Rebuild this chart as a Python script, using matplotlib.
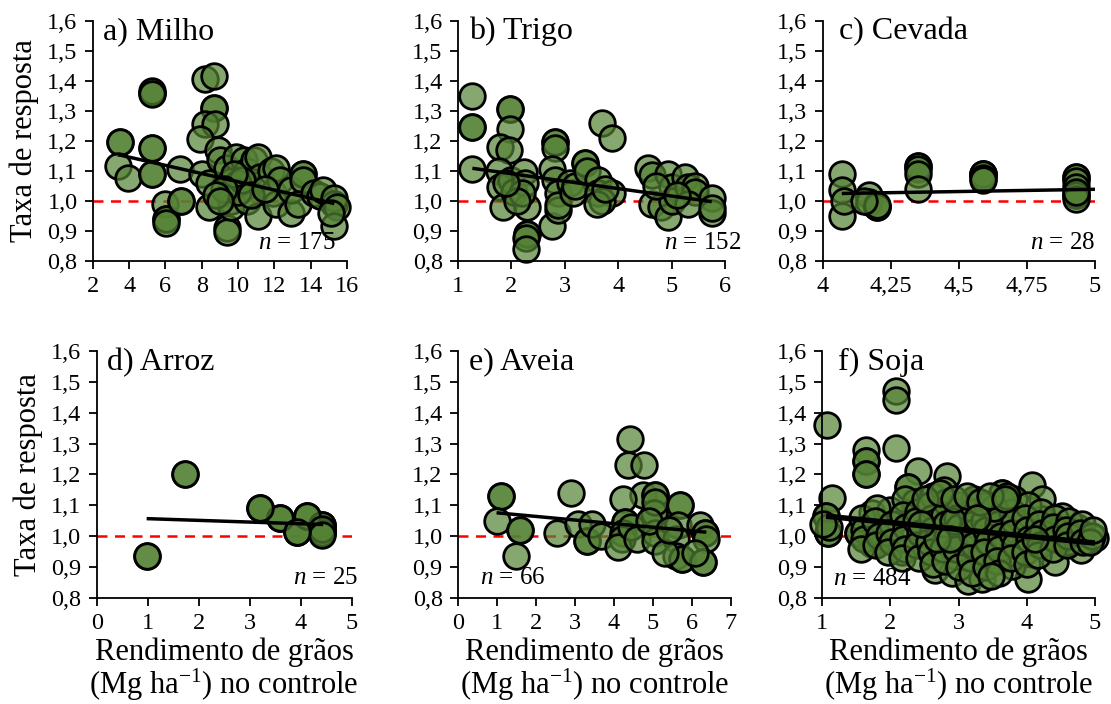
import matplotlib
matplotlib.use("Agg")
import matplotlib.pyplot as plt
from matplotlib.ticker import FuncFormatter
import numpy as np

plt.rcParams['font.family'] = ['Liberation Serif', 'DejaVu Serif']
plt.rcParams['mathtext.fontset'] = 'custom'
plt.rcParams['mathtext.rm'] = 'Liberation Serif'
plt.rcParams['mathtext.it'] = 'Liberation Serif:italic'

# a) Milho
milho_x = [3.5, 3.5, 3.4, 3.95, 5.25, 5.25, 5.25, 5.25, 5.25, 5.25, 5.25,
           6.0, 6.05, 6.05, 6.05, 6.85, 6.85, 6.8, 8.2, 8.65, 8.65, 8.65,
           8.2, 8.75, 7.9, 8.0, 8.4, 8.4, 8.9, 9.0, 9.4, 9.4, 9.4, 9.6,
           9.6, 9.6, 9.6, 9.9, 10.3, 10.5, 10.5, 10.5, 10.9, 11.1, 11.2,
           11.1, 11.8, 11.9, 12.1, 12.3, 12.1, 12.9, 12.9, 13.6, 13.6,
           13.6, 13.3, 14.2, 14.5, 14.7, 15.3, 15.3, 15.3, 15.45, 15.3,
           15.1, 10.0, 10.0, 10.2, 9.8, 10.7, 11.5, 9.2, 8.8, 9.0]
milho_y = [1.195, 1.195, 1.115, 1.075, 1.36, 1.365, 1.355, 1.175, 1.175,
           1.09, 1.09, 0.99, 0.94, 0.94, 0.925, 1.0, 1.0, 1.105, 1.405,
           1.415, 1.31, 1.31, 1.255, 1.255, 1.205, 1.09, 1.06, 0.98, 1.17,
           1.135, 0.91, 0.895, 1.11, 1.065, 1.025, 1.0, 0.98, 1.145, 1.135,
           1.10, 1.05, 1.0, 1.135, 1.145, 1.08, 0.95, 1.10, 1.025, 1.11,
           1.07, 0.99, 0.96, 1.035, 1.09, 1.09, 1.07, 0.99, 1.025, 1.015,
           1.035, 0.99, 0.99, 1.01, 0.98, 0.915, 0.96, 1.06, 1.03, 1.07,
           1.09, 1.02, 1.04, 1.04, 1.02, 1.0]

# b) Trigo
trigo_x = [1.27, 1.27, 1.27, 1.27, 1.98, 1.98, 1.98, 1.79, 1.95, 1.76,
           1.79, 1.85, 2.0, 2.04, 2.23, 2.26, 2.29, 2.29, 2.29, 2.28, 2.28,
           2.2, 2.1, 1.9, 2.82, 2.82, 2.82, 2.76, 2.82, 2.76, 2.88, 2.88,
           2.88, 3.1, 3.16, 3.2, 3.38, 3.38, 3.41, 3.63, 3.63, 3.69, 3.88,
           3.88, 3.69, 3.6, 3.75, 4.56, 4.63, 4.63, 4.81, 4.94, 4.94, 5.0,
           5.0, 5.25, 5.31, 5.44, 5.44, 5.31, 5.75, 5.75, 5.75, 4.7, 5.1]
trigo_y = [1.35, 1.245, 1.245, 1.105, 1.305, 1.305, 1.24, 1.18, 1.17, 1.10,
           1.045, 0.98, 1.07, 1.03, 1.095, 1.06, 0.98, 0.89, 0.89, 0.875,
           0.84, 1.025, 1.0, 1.06, 1.195, 1.195, 1.175, 1.105, 1.07, 0.915,
           1.025, 0.97, 0.985, 1.06, 1.025, 1.05, 1.125, 1.125, 1.10, 1.07,
           1.025, 1.26, 1.21, 1.025, 1.0, 0.99, 1.04, 1.11, 1.085, 0.99,
           0.98, 0.945, 1.09, 1.045, 1.0, 1.08, 1.045, 1.05, 1.03, 0.99,
           1.01, 0.96, 0.975, 1.05, 1.02]

# c) Cevada
cevada_x = [4.07, 4.07, 4.07, 4.08, 4.17, 4.17, 4.2, 4.2, 4.2, 4.15,
            4.35, 4.35, 4.35, 4.35, 4.35, 4.59, 4.59, 4.59, 4.59, 4.59,
            4.93, 4.93, 4.93, 4.93, 4.93, 4.93, 4.93, 4.93]
cevada_y = [1.09, 1.035, 0.95, 1.0, 1.02, 0.995, 0.98, 0.98, 0.985, 1.0,
            1.115, 1.115, 1.105, 1.09, 1.04, 1.09, 1.09, 1.09, 1.075, 1.07,
            1.08, 1.08, 1.065, 1.045, 1.02, 1.02, 1.005, 1.03]

# d) Arroz
arroz_x = [0.98, 0.98, 1.73, 1.73, 3.2, 3.2, 3.59, 3.59, 3.92, 3.92,
           4.12, 4.12, 4.41, 4.41, 4.41, 4.41, 4.41, 4.41, 4.41, 3.59,
           4.12, 3.2, 4.41, 4.41, 3.92]
arroz_y = [0.935, 0.935, 1.2, 1.2, 1.09, 1.09, 1.06, 1.06, 1.015, 1.015,
           1.065, 1.065, 1.035, 1.035, 1.035, 1.02, 1.02, 1.01, 1.01, 1.06,
           1.065, 1.09, 1.025, 1.005, 1.015]

# e) Aveia
aveia_x = [1.1, 1.1, 0.99, 1.59, 1.59, 1.5, 2.9, 2.53, 3.09, 3.3, 3.3,
           3.43, 3.68, 4.41, 4.37, 4.78, 4.75, 5.05, 5.05, 4.24, 5.03, 5.03,
           5.05, 4.28, 4.28, 4.24, 4.2, 4.11, 4.45, 4.58, 5.05, 5.05, 5.69,
           5.69, 5.65, 5.6, 5.6, 5.74, 5.74, 6.2, 6.33, 6.33, 6.37, 6.29,
           6.29, 6.08, 5.31, 4.9, 5.4]
aveia_y = [1.13, 1.13, 1.05, 1.02, 1.02, 0.935, 1.14, 1.01, 1.04, 0.985,
           0.985, 1.04, 1.0, 1.315, 1.23, 1.23, 1.135, 1.135, 1.135, 1.12,
           1.075, 1.075, 1.11, 1.045, 1.045, 1.01, 0.99, 0.965, 1.03, 0.99,
           1.01, 0.985, 1.10, 1.10, 1.035, 0.99, 0.935, 0.925, 0.925, 1.035,
           1.01, 1.01, 0.99, 0.915, 0.915, 0.945, 0.945, 1.05, 1.02]

# f) Soja
soja_x = [1.07, 1.14, 1.06, 1.06, 1.09, 1.09, 1.1, 1.02,
          2.09, 2.09, 2.09, 1.65, 1.65, 1.65, 1.65, 1.65, 2.41, 2.83, 2.26,
          2.26, 4.07, 3.63, 3.63, 3.63, 1.73, 1.53, 1.53, 1.73, 1.73, 2.17,
          2.66, 2.9, 3.14, 3.34, 4.02, 3.78, 4.41, 4.8, 5.0, 4.74, 4.51,
          4.22, 2.36, 2.0, 2.85, 3.24, 3.39, 2.75, 2.51, 3.05, 3.63, 3.93,
          4.22, 4.3, 4.6, 3.83, 3.39, 2.95,
          1.58, 1.62, 1.61, 1.57, 1.81, 1.78, 1.83, 1.79, 2.02, 1.98, 2.03,
          1.97, 2.21, 2.18, 2.23, 2.19, 2.22, 2.17, 2.41, 2.38, 2.43, 2.39,
          2.42, 2.62, 2.58, 2.61, 2.63, 2.57, 2.6, 2.62, 2.79, 2.82, 2.78,
          2.81, 2.83, 2.77, 2.8, 3.02, 2.98, 3.01, 3.03, 2.97, 3.0, 3.22,
          3.18, 3.21, 3.19, 3.23, 3.17, 3.2, 3.42, 3.38, 3.41, 3.43, 3.37,
          3.4, 3.61, 3.58, 3.62, 3.59, 3.57, 3.6, 3.82, 3.78, 3.81, 3.79,
          3.83, 3.77, 4.02, 3.98, 4.01, 4.03, 3.97, 4.0, 4.21, 4.18, 4.22,
          4.19, 4.17, 4.42, 4.38, 4.41, 4.39, 4.62, 4.58, 4.61, 4.59, 4.81,
          4.78, 4.82, 4.96, 4.93, 4.97, 3.52, 3.48, 2.92, 2.68, 3.71, 4.12,
          2.51, 2.73, 2.94, 3.12, 3.31, 3.46, 3.68, 2.45, 2.88, 3.27]
soja_y = [1.36, 1.125, 1.065, 1.065, 1.01, 1.01, 1.03, 1.04,
          1.47, 1.44, 1.285, 1.28, 1.245, 1.245, 1.2, 1.2, 1.21, 1.195, 1.16,
          1.16, 1.165, 1.14, 1.14, 1.11, 1.075, 1.01, 1.01, 0.975, 0.975,
          0.95, 0.89, 0.88, 0.855, 0.86, 0.86, 0.905, 0.915, 0.955, 0.995,
          1.03, 1.065, 1.12, 1.11, 1.085, 1.085, 1.11, 1.065, 1.02, 0.98,
          1.0, 0.98, 1.03, 1.055, 1.0, 0.98, 0.945, 0.935, 0.935,
          1.06, 1.02, 0.99, 0.96, 1.09, 1.05, 1.0, 0.97, 1.04, 1.01, 0.98,
          0.95, 1.12, 1.07, 1.03, 0.99, 0.96, 0.93, 1.08, 1.05, 1.01, 0.97,
          0.93, 1.13, 1.1, 1.06, 1.02, 0.98, 0.95, 0.91, 1.15, 1.11, 1.07,
          1.04, 1.0, 0.96, 0.92, 1.1, 1.06, 1.03, 0.99, 0.96, 0.9, 1.12,
          1.08, 1.04, 1.01, 0.97, 0.93, 0.88, 1.1, 1.05, 1.02, 0.98, 0.95,
          0.9, 1.07, 1.04, 1.0, 0.96, 0.92, 0.88, 1.12, 1.08, 1.05, 1.01,
          0.97, 0.93, 1.1, 1.06, 1.02, 0.99, 0.95, 0.91, 1.08, 1.04, 1.01,
          0.97, 0.94, 1.06, 1.03, 0.99, 0.96, 1.05, 1.02, 1.0, 0.97, 1.04,
          1.01, 0.98, 1.0, 0.98, 1.02, 1.09, 0.87, 1.05, 0.99, 1.13, 0.99,
          1.12, 1.14, 1.12, 1.13, 1.11, 1.13, 1.12, 1.04, 0.99, 1.06]

# trend lines: intercept, slope, x span
trend_a = (1.200, -0.0137, 3.4, 15.3)
trend_b = (1.1395, -0.0248, 1.27, 5.75)
trend_c = (0.963, 0.015, 4.07, 5.0)
trend_d = (1.0624, -0.0055, 0.98, 4.44)
trend_e = (1.0876, -0.0117, 0.99, 6.37)
trend_f = (1.0884, -0.0221, 1.06, 5.0)

titles = ['a) Milho', 'b) Trigo', 'c) Cevada', 'd) Arroz', 'e) Aveia', 'f) Soja']
n_obs = [175, 152, 28, 25, 66, 484]

fill = (0.329, 0.510, 0.208, 0.7)

fig = plt.figure(figsize=(11.11, 7.04), dpi=100)

# axes boxes in figure fraction
boxes = [(0.0835, 0.6297, 0.2289, 0.3409),
         (0.4122, 0.6297, 0.2404, 0.3409),
         (0.7405, 0.6297, 0.2451, 0.3409),
         (0.0870, 0.1506, 0.2296, 0.3508),
         (0.4122, 0.1506, 0.2457, 0.3508),
         (0.7399, 0.1506, 0.2457, 0.3508)]
panels = [(milho_x, milho_y, trend_a, (2, 16), np.arange(2, 17, 2), 2.5),
          (trigo_x, trigo_y, trend_b, (1, 6), np.arange(1, 7, 1), 2.5),
          (cevada_x, cevada_y, trend_c, (4, 5), np.arange(4, 5.01, 0.25), 2.5),
          (arroz_x, arroz_y, trend_d, (0, 5), np.arange(0, 6, 1), 2.5),
          (aveia_x, aveia_y, trend_e, (0, 7), np.arange(0, 8, 1), 2.5),
          (soja_x, soja_y, trend_f, (1, 5), np.arange(1, 6, 1), 4.0)]
# n label placement: x, y, ha
n_pos = [(0.955, 0.075, 'right'), (1.06, 0.075, 'right'), (1.0, 0.075, 'right'),
         (1.025, 0.08, 'right'), (0.08, 0.08, 'left'), (0.04, 0.075, 'left')]

xfmt = FuncFormatter(lambda v, p: ('%g' % round(v, 2)).replace('.', ','))
yfmt = FuncFormatter(lambda v, p: ('%.1f' % v).replace('.', ','))

for i, (box, (xs, ys, tr, xl, xt, lw)) in enumerate(zip(boxes, panels)):
    ax = fig.add_axes(box)
    ax.axhline(1.0, color='red', ls=(0, (4, 3)), lw=1.8, zorder=1)
    ax.scatter(xs, ys, s=340, facecolor=fill, edgecolor='black',
               linewidths=2.0, zorder=2, clip_on=False)
    b0, b1, x0, x1 = tr
    ax.plot([x0, x1], [b0 + b1 * x0, b0 + b1 * x1], color='black', lw=lw,
            zorder=3, solid_capstyle='butt')
    ax.set_xlim(*xl)
    ax.set_ylim(0.8, 1.6)
    ax.set_xticks(xt)
    ax.set_yticks(np.arange(0.8, 1.61, 0.1))
    ax.xaxis.set_major_formatter(xfmt)
    ax.yaxis.set_major_formatter(yfmt)
    for s in ['top', 'right']:
        ax.spines[s].set_visible(False)
    for s in ['left', 'bottom']:
        ax.spines[s].set_linewidth(1.3)
    ax.tick_params(direction='out', length=6, width=1.3, labelsize=17.5,
                   pad=5)
    ax.text(0.04 if i not in (2, 5) else 0.06, 0.955, titles[i],
            transform=ax.transAxes, fontsize=23, va='center', ha='left')
    nx, ny, nha = n_pos[i]
    ax.text(nx, ny, r'$n$ = %d' % n_obs[i], transform=ax.transAxes,
            fontsize=18, va='center', ha=nha, zorder=5)
    if i in (0, 3):
        ax.set_ylabel('Taxa de resposta', fontsize=22, labelpad=6)
    if i >= 3:
        ax.set_xlabel('Rendimento de grãos\n(Mg ha$^{-1}$) no controle',
                      fontsize=22, labelpad=2, linespacing=1.0)

fig.savefig('out.png', dpi=100)
